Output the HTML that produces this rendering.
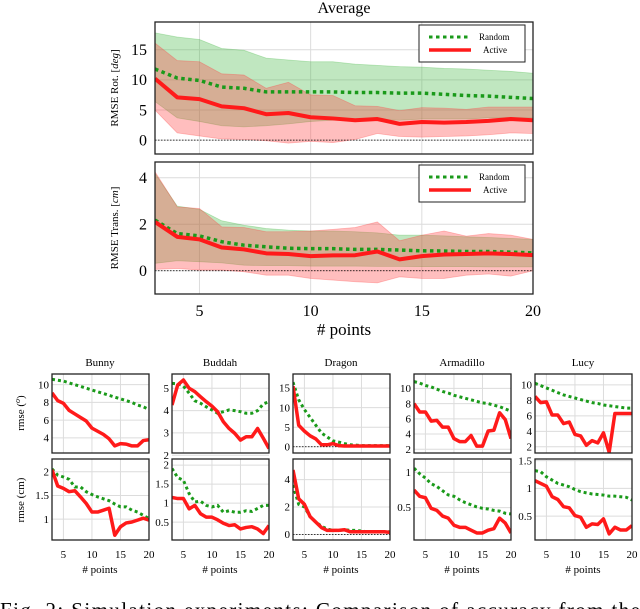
<!DOCTYPE html>
<html><head><meta charset="utf-8">
<style>
html,body{margin:0;padding:0;background:#fff;}
svg{display:block;font-family:"Liberation Serif",serif;}
</style></head>
<body>
<svg id="fig" width="640" height="609" viewBox="0 0 640 609" xmlns="http://www.w3.org/2000/svg">
<text x="344" y="13" font-size="16" text-anchor="middle">Average</text>
<text x="344" y="335" font-size="17" text-anchor="middle"># points</text>
<text transform="translate(118,88) rotate(-90)" font-size="11" text-anchor="middle">RMSE Rot. [<tspan font-style="italic">deg</tspan>]</text>
<text transform="translate(118,228) rotate(-90)" font-size="11" text-anchor="middle">RMSE Trans. [<tspan font-style="italic">cm</tspan>]</text>
<text transform="translate(24,413) rotate(-90)" font-size="11" text-anchor="middle">rmse (<tspan font-style="italic" dy="-4" font-size="8">o</tspan><tspan dy="4">)</tspan></text>
<text transform="translate(24,500) rotate(-90)" font-size="11" text-anchor="middle">rmse (cm)</text>
<text x="0" y="617" font-size="21" textLength="640">Fig. 2:  Simulation  experiments:  Comparison  of  accuracy  from  the</text>
</svg>
<script>
const xs = [3,4,5,6,7,8,9,10,11,12,13,14,15,16,17,18,19,20];
// Average rotation
const avgRotRandom = [11.8,10.3,9.9,8.8,8.6,8.0,8.0,8.0,8.0,7.9,7.9,7.8,7.8,7.6,7.4,7.3,7.1,6.9];
const avgRotActive = [10.2,7.1,6.8,5.6,5.3,4.3,4.5,3.8,3.6,3.3,3.5,2.7,3.0,2.9,3.0,3.2,3.5,3.3];
const avgRotRandomHi = [17.8,17.1,16.7,15.2,14.9,13.6,13.3,13.0,13.0,12.6,12.4,12.2,12.1,11.9,11.8,11.6,11.4,11.1];
const avgRotRandomLo = [6.4,3.7,3.1,2.4,2.2,2.4,2.7,3.1,3.3,3.3,3.4,3.3,3.5,3.5,3.5,3.7,3.7,3.7];
const avgRotActiveHi = [16.1,13.2,13.0,11.0,10.8,8.6,9.6,7.5,7.4,5.7,5.6,4.9,5.4,5.3,5.1,5.5,5.5,5.5];
const avgRotActiveLo = [5.0,1.2,0.7,0.2,0.1,-0.1,-0.5,-0.2,-0.4,0.1,1.1,0.6,0.5,0.6,0.7,0.9,1.2,1.1];
// Average translation
const avgTrRandom = [2.18,1.6,1.5,1.25,1.1,1.03,0.97,0.95,0.95,0.92,0.92,0.89,0.86,0.85,0.83,0.83,0.8,0.77];
const avgTrActive = [2.1,1.46,1.35,1.0,0.92,0.75,0.72,0.63,0.66,0.67,0.83,0.49,0.63,0.7,0.72,0.75,0.72,0.67];
const avgTrRandomHi = [4.19,2.78,2.64,2.15,1.96,1.82,1.75,1.71,1.71,1.68,1.63,1.53,1.53,1.5,1.46,1.43,1.39,1.35];
const avgTrRandomLo = [0.32,0.43,0.39,0.34,0.24,0.22,0.22,0.2,0.2,0.2,0.19,0.19,0.18,0.18,0.18,0.17,0.17,0.17];
const avgTrActiveHi = [4.26,2.75,2.68,1.89,1.86,1.68,1.68,1.71,1.78,1.86,2.1,1.29,1.53,1.71,1.49,1.6,1.53,1.35];
const avgTrActiveLo = [0.06,0.1,0.03,0.03,-0.04,-0.19,-0.19,-0.33,-0.4,-0.47,-0.52,-0.26,-0.33,-0.33,-0.19,-0.14,-0.23,0];
// Per-object
const objNames = ["Bunny","Buddah","Dragon","Armadillo","Lucy"];
const rotRandom = [
 [10.6,10.5,10.4,10.2,10.0,9.8,9.6,9.4,9.2,9.0,8.8,8.6,8.4,8.2,8.0,7.7,7.5,7.2],
 [5.22,5.2,5.1,4.78,4.44,4.33,4.17,4.03,3.88,3.95,4.03,4.0,3.95,3.88,3.88,4.0,4.3,4.4],
 [16.5,12,9.5,7.5,5.5,3.5,2.5,1.5,1.2,0.8,0.5,0.4,0.3,0.3,0.3,0.3,0.3,0.3],
 [10.9,10.7,10.4,10.2,9.9,9.6,9.4,9.1,8.9,8.7,8.5,8.3,8.1,8.0,7.8,7.6,7.3,7.0],
 [10.2,9.9,9.6,9.3,9.0,8.7,8.5,8.3,8.1,7.9,7.7,7.6,7.4,7.3,7.2,7.1,7.0,7.0]];
const rotActive = [
 [9.07,8.2,7.9,7.1,6.7,6.3,5.9,5.1,4.75,4.4,3.9,3.1,3.35,3.3,3.1,3.1,3.7,3.8],
 [4.25,5.15,5.37,5.0,4.85,4.62,4.4,4.2,3.95,3.5,3.2,2.98,2.68,2.83,2.83,3.2,2.76,2.3],
 [15.5,5.5,4,2.8,2,0.5,0.5,0.8,0.3,0.2,0.2,0.2,0.2,0.2,0.2,0.2,0.2,0.2],
 [8.0,6.9,6.9,5.7,5.8,4.9,4.9,3.4,3.0,3.0,3.8,2.4,2.4,4.4,4.5,6.8,5.9,3.4],
 [8.5,7.7,7.8,6.1,6.1,5.0,5.2,3.6,3.4,2.2,2.8,2.5,3.8,1.3,6.3,6.3,6.3,6.3]];
const trRandom = [
 [2.06,1.93,1.89,1.84,1.68,1.68,1.58,1.52,1.47,1.43,1.39,1.32,1.26,1.26,1.19,1.15,1.08,1.01],
 [1.91,1.67,1.6,1.25,1.03,1.05,0.94,0.9,0.94,0.76,0.8,0.76,0.76,0.8,0.78,0.86,0.94,0.94],
 [3.6,2.2,2.0,1.3,0.9,0.6,0.4,0.3,0.3,0.35,0.3,0.3,0.25,0.2,0.2,0.2,0.2,0.2],
 [1.06,0.98,0.92,0.84,0.8,0.74,0.68,0.66,0.61,0.57,0.54,0.51,0.49,0.48,0.46,0.45,0.42,0.41],
 [1.32,1.3,1.21,1.15,1.09,1.06,1.03,0.98,0.94,0.92,0.9,0.89,0.88,0.86,0.86,0.85,0.84,0.79]];
const trActive = [
 [2.04,1.7,1.65,1.58,1.6,1.47,1.33,1.15,1.15,1.19,1.23,0.66,0.84,0.92,0.94,0.98,1.02,0.98],
 [1.15,1.12,1.12,0.85,0.94,0.72,0.63,0.63,0.56,0.47,0.41,0.43,0.32,0.36,0.38,0.32,0.2,0.41],
 [4.7,2.6,2.2,1.3,0.9,0.5,0.3,0.3,0.3,0.35,0.2,0.2,0.2,0.2,0.2,0.2,0.2,0.15],
 [0.75,0.66,0.64,0.49,0.46,0.38,0.35,0.25,0.22,0.22,0.18,0.14,0.14,0.18,0.2,0.35,0.28,0.14],
 [1.14,1.09,1.04,0.85,0.8,0.67,0.65,0.51,0.48,0.3,0.36,0.35,0.45,0.18,0.3,0.25,0.25,0.33]];
const rotTicks = [[4,6,8,10],[2,3,4,5],[0,5,10,15],[2,4,6,8,10],[2,4,6,8,10]];
const trTicks = [[1,1.5,2],[0.5,1,1.5,2],[0,2,4],[0.5,1],[0.5,1,1.5]];
const rotDomain = [[2.3,11.2],[2.1,5.64],[-1.6,18.6],[1.5,11.9],[1.2,11.4]];
const trDomain = [[0.56,2.27],[0.03,2.16],[-0.4,5.5],[0.04,1.19],[0.07,1.53]];
const xTicks = [5,10,15,20];

const svg = document.getElementById('fig');
const NS = 'http://www.w3.org/2000/svg';
function mk(tag, attrs, parent){ const e=document.createElementNS(NS,tag); for(const k in attrs) e.setAttribute(k,attrs[k]); (parent||svg).appendChild(e); return e; }
const GREEN='#1a9a1a', RED='#ff1a1a';

function panel(box, xd, yd, o){
  const g = mk('g',{});
  
  
  const sx = v => box.x + (v - xd[0])/(xd[1]-xd[0])*box.w;
  const sy = v => box.y + box.h - (v - yd[0])/(yd[1]-yd[0])*box.h;
  const clipId = 'c'+o.name;
  const cp = mk('clipPath',{id:clipId},g); mk('rect',{x:box.x,y:box.y,width:box.w,height:box.h},cp);
  // grid
  for(const t of xTicks){ if(t>xd[0]&&t<xd[1]){ const l=mk('line',{x1:sx(t),x2:sx(t),y1:box.y,y2:box.y+box.h,stroke:'#dcdcdc','stroke-width':1},g);
      } }
  for(const t of o.yTicks){ const l=mk('line',{x1:box.x,x2:box.x+box.w,y1:sy(t),y2:sy(t),stroke:'#dcdcdc','stroke-width':1},g);
      }
  const cg = mk('g',{'clip-path':'url(#'+clipId+')'},g);
  function band(hi,lo,fill,name){
    let d='M'+xs.map((x,i)=>sx(x)+','+sy(hi[i])).join('L');
    for(let i=xs.length-1;i>=0;i--) d+='L'+sx(xs[i])+','+sy(lo[i]);
    const p=mk('path',{d:d+'Z',fill:fill,stroke:fill,'stroke-width':0.8},cg);
     
  }
  if(o.bands){ band(o.bands[0],o.bands[1],'rgba(60,180,60,0.32)','random-band'); band(o.bands[2],o.bands[3],'rgba(255,70,70,0.35)','active-band'); }
  if(o.zero){ const z=mk('line',{x1:box.x,x2:box.x+box.w,y1:sy(0),y2:sy(0),stroke:'#000','stroke-width':0.8,'stroke-dasharray':'1.5 1.5'},cg);
      }
  const pts = arr => xs.map((x,i)=>sx(x)+','+sy(arr[i])).join(' ');
  const r=mk('polyline',{points:pts(o.random),fill:'none',stroke:GREEN,'stroke-width':o.lw,'stroke-dasharray':o.dash},cg);
   
  const a=mk('polyline',{points:pts(o.active),fill:'none',stroke:RED,'stroke-width':o.lw+0.5,'stroke-linejoin':'round'},cg);
   
  mk('rect',{x:box.x,y:box.y,width:box.w,height:box.h,fill:'none',stroke:'#222','stroke-width':1.3},g);
  for(const t of o.yTicks){ const tx=mk('text',{x:box.x-o.tgap,y:sy(t)+o.fs*0.33,'font-size':o.fs,'text-anchor':'end'},g); tx.textContent=String(t);
      }
  if(o.xLabels){ for(const t of xTicks){ const tx=mk('text',{x:sx(t),y:o.xLabY,'font-size':o.fs,'text-anchor':'middle'},g); tx.textContent=String(t);
      } }
  if(o.legend){
    const L=o.legend; const lg=mk('g',{},g);
     
    mk('rect',{x:L.x,y:L.y,width:106,height:37,fill:'#fff',stroke:'#222','stroke-width':1},lg);
    const l1=mk('line',{x1:L.x+10,x2:L.x+52,y1:L.y+12,y2:L.y+12,stroke:GREEN,'stroke-width':3,'stroke-dasharray':'3.5 3.5'},lg);
     
    const t1=mk('text',{x:L.x+60,y:L.y+15,'font-size':9},lg); t1.textContent='Random';
     
    const l2=mk('line',{x1:L.x+10,x2:L.x+52,y1:L.y+25,y2:L.y+25,stroke:RED,'stroke-width':3.5},lg);
     
    const t2=mk('text',{x:L.x+64,y:L.y+28,'font-size':9},lg); t2.textContent='Active';
     
  }
}

panel({x:155,y:22,w:378,h:132},[3,20],[-2.3,19.6],{name:'avg-rot-panel',yTicks:[0,5,10,15],random:avgRotRandom,active:avgRotActive,
  bands:[avgRotRandomHi,avgRotRandomLo,avgRotActiveHi,avgRotActiveLo],zero:true,lw:3.5,dash:'3.5 3.5',fs:16,tgap:8,legend:{x:419,y:25}});
panel({x:155,y:162,w:378,h:132},[3,20],[-1.0,4.68],{name:'avg-trans-panel',yTicks:[0,2,4],random:avgTrRandom,active:avgTrActive,
  bands:[avgTrRandomHi,avgTrRandomLo,avgTrActiveHi,avgTrActiveLo],zero:true,lw:3.5,dash:'3.5 3.5',fs:16,tgap:8,legend:{x:419,y:165},xLabels:true,xLabY:316});

const px=[52,172,293,414,535];
for(let k=0;k<5;k++){
  const t=mk('text',{x:px[k]+48,y:366,'font-size':11,'text-anchor':'middle'}); t.textContent=objNames[k];
   
  panel({x:px[k],y:374,w:97,h:79},[3,20],rotDomain[k],{name:'rot-panel-'+objNames[k].toLowerCase(),yTicks:rotTicks[k],random:rotRandom[k],active:rotActive[k],
    zero:k===2,lw:3,dash:'3 3',fs:11,tgap:3});
  panel({x:px[k],y:459,w:97,h:81},[3,20],trDomain[k],{name:'trans-panel-'+objNames[k].toLowerCase(),yTicks:trTicks[k],random:trRandom[k],active:trActive[k],
    zero:k===2,lw:3,dash:'3 3',fs:11,tgap:3,xLabels:true,xLabY:558});
  const xl=mk('text',{x:px[k]+48,y:573,'font-size':11,'text-anchor':'middle'}); xl.textContent='# points';
   
}
</script>
</body></html>
